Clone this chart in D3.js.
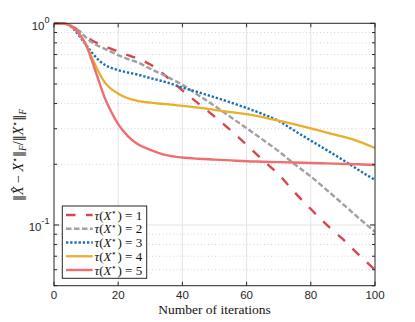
<!DOCTYPE html>
<html lang="en">
<head>
    <meta charset="UTF-8">
    <title>Relative error vs iterations</title>
    <style>
        body { margin: 0; background: #fff; }
        .tick-label { font-family: "Liberation Sans", Arial, sans-serif; font-size: 11.5px; fill: #262626; }
        .tex { font-family: "Liberation Serif", "DejaVu Serif", serif; fill: #111; }
        .norm { font-family: "DejaVu Serif", serif; font-size: 12px; }
    </style>
</head>
<body>
    <svg width="415" height="322"></svg>

    <script src="https://d3js.org/d3.v7.min.js"></script>
    <script>
        const iters = [0, 2, 4, 6, 8, 10, 12, 14, 16, 18, 20, 23, 26, 30, 35, 40, 45, 50, 55, 60, 65, 70, 75, 80, 85, 90, 95, 100];

        const err1 = [1, 1, 0.99, 0.96, 0.91, 0.86, 0.82, 0.79, 0.765, 0.745, 0.725, 0.695, 0.67, 0.625, 0.545, 0.465, 0.40, 0.345, 0.295, 0.25, 0.21, 0.178, 0.145, 0.12, 0.10, 0.085, 0.071, 0.06];
        const err2 = [1, 1, 0.99, 0.96, 0.91, 0.85, 0.80, 0.77, 0.745, 0.72, 0.695, 0.665, 0.64, 0.595, 0.545, 0.495, 0.44, 0.39, 0.343, 0.302, 0.265, 0.232, 0.20, 0.174, 0.149, 0.127, 0.108, 0.0925];
        const err3 = [1, 1, 0.99, 0.94, 0.86, 0.78, 0.71, 0.655, 0.62, 0.60, 0.585, 0.57, 0.557, 0.535, 0.51, 0.48, 0.455, 0.43, 0.405, 0.38, 0.355, 0.328, 0.293, 0.262, 0.235, 0.21, 0.187, 0.167];
        const err4 = [1, 1, 0.99, 0.95, 0.88, 0.78, 0.665, 0.57, 0.505, 0.47, 0.448, 0.425, 0.413, 0.404, 0.397, 0.39, 0.382, 0.372, 0.363, 0.355, 0.343, 0.329, 0.315, 0.301, 0.287, 0.274, 0.259, 0.241];
        const err5 = [1, 1, 0.99, 0.95, 0.88, 0.78, 0.64, 0.515, 0.42, 0.36, 0.316, 0.276, 0.252, 0.236, 0.222, 0.216, 0.213, 0.211, 0.209, 0.207, 0.206, 0.205, 0.204, 0.203, 0.202, 0.201, 0.200, 0.198];

        const ranks = [1, 2, 3, 4, 5];
        const xTicks = [0, 20, 40, 60, 80, 100];
        const yMajor = [1, 0.1];
        const yMinor = [0.05, 0.06, 0.07, 0.08, 0.09, 0.2, 0.3, 0.4, 0.5, 0.6, 0.7, 0.8, 0.9];

        const series = [
            { rank: 1, values: err1, color: "#d8464d", dash: "9.5,10.5", width: 2.4 },
            { rank: 2, values: err2, color: "#a0a0a0", dash: "5.5,2.5", width: 2.4 },
            { rank: 3, values: err3, color: "#1a6db5", dash: "2.3,1.9", width: 2.4 },
            { rank: 4, values: err4, color: "#e8ae2e", dash: null, width: 2.3 },
            { rank: 5, values: err5, color: "#ef6e70", dash: null, width: 2.4 }
        ];

        const svg = d3.select("svg");
        const plotL = 54, plotR = 375, plotT = 23.3, plotB = 285.7;

        const x = d3.scaleLinear().domain([0, 100]).range([plotL, plotR]);
        const y = d3.scaleLog().domain([0.05, 1]).range([plotB, plotT]);

        // grid
        svg.append("g").selectAll("line")
            .data(xTicks.slice(1, -1))
            .join("line")
            .attr("x1", d => x(d)).attr("x2", d => x(d))
            .attr("y1", plotT).attr("y2", plotB)
            .attr("stroke", "#e3e3e3").attr("stroke-width", 1);

        svg.append("g").selectAll("line")
            .data(yMinor)
            .join("line")
            .attr("x1", plotL).attr("x2", plotR)
            .attr("y1", d => y(d)).attr("y2", d => y(d))
            .attr("stroke", "#c8c8c8").attr("stroke-width", 0.8)
            .attr("stroke-dasharray", "1,2.5");

        svg.append("line")
            .attr("x1", plotL).attr("x2", plotR)
            .attr("y1", y(0.1)).attr("y2", y(0.1))
            .attr("stroke", "#e3e3e3").attr("stroke-width", 1);

        // curves
        const line = d3.line()
            .x((d, i) => x(iters[i]))
            .y(d => y(d))
            .curve(d3.curveMonotoneX);

        svg.append("defs").append("clipPath").attr("id", "clip")
            .append("rect")
            .attr("x", plotL).attr("y", plotT - 2)
            .attr("width", plotR - plotL).attr("height", plotB - plotT + 2);

        svg.append("g").attr("clip-path", "url(#clip)")
            .selectAll("path")
            .data(series)
            .join("path")
            .attr("d", d => line(d.values))
            .attr("fill", "none")
            .attr("stroke", d => d.color)
            .attr("stroke-width", d => d.width)
            .attr("stroke-dasharray", d => d.dash);

        // axes box and inward ticks
        const frame = svg.append("g").attr("stroke", "#262626").attr("stroke-width", 1);
        frame.append("rect")
            .attr("x", plotL).attr("y", plotT)
            .attr("width", plotR - plotL).attr("height", plotB - plotT)
            .attr("fill", "none");

        xTicks.forEach(t => {
            frame.append("line").attr("x1", x(t)).attr("x2", x(t)).attr("y1", plotB).attr("y2", plotB - 4);
            frame.append("line").attr("x1", x(t)).attr("x2", x(t)).attr("y1", plotT).attr("y2", plotT + 4);
        });
        yMajor.forEach(t => {
            frame.append("line").attr("x1", plotL).attr("x2", plotL + 5).attr("y1", y(t)).attr("y2", y(t));
            frame.append("line").attr("x1", plotR).attr("x2", plotR - 5).attr("y1", y(t)).attr("y2", y(t));
        });
        yMinor.forEach(t => {
            frame.append("line").attr("x1", plotL).attr("x2", plotL + 3).attr("y1", y(t)).attr("y2", y(t));
            frame.append("line").attr("x1", plotR).attr("x2", plotR - 3).attr("y1", y(t)).attr("y2", y(t));
        });

        // tick labels
        svg.append("g").selectAll("text")
            .data(xTicks)
            .join("text")
            .attr("class", "tick-label")
            .attr("x", d => x(d))
            .attr("y", 299)
            .attr("text-anchor", "middle")
            .text(d => d);

        const yl = svg.append("g").selectAll("text")
            .data(yMajor)
            .join("text")
            .attr("class", "tick-label")
            .attr("x", 49.5)
            .attr("y", d => y(d) + 6.5)
            .attr("text-anchor", "end")
            .attr("font-size", "12px");
        yl.append("tspan").text("10");
        yl.append("tspan").attr("dy", -7).attr("font-size", "9px").text(d => Math.round(Math.log10(d)));

        // axis labels
        svg.append("text")
            .attr("class", "tex")
            .attr("x", x(50))
            .attr("y", 313.5)
            .attr("text-anchor", "middle")
            .attr("font-size", "13.5px")
            .text("Number of iterations");

        const ylab = svg.append("text")
            .attr("class", "tex")
            .attr("transform", "translate(23,155) rotate(-90)")
            .attr("text-anchor", "middle")
            .attr("font-size", "14px");
        ylab.append("tspan").attr("class", "norm").text("\u2016");
        ylab.append("tspan").attr("font-style", "italic").text("X\u0302");
        ylab.append("tspan").text(" \u2212 ");
        ylab.append("tspan").attr("font-style", "italic").text("X");
        ylab.append("tspan").attr("dy", -5).attr("font-size", "9.5px").text("\u22c6");
        ylab.append("tspan").attr("dy", 5).attr("class", "norm").text("\u2016");
        ylab.append("tspan").attr("dy", 3).attr("font-size", "9.5px").attr("font-style", "italic").text("F");
        ylab.append("tspan").attr("dy", -3).text("/");
        ylab.append("tspan").attr("class", "norm").text("\u2016");
        ylab.append("tspan").attr("font-style", "italic").text("X");
        ylab.append("tspan").attr("dy", -5).attr("font-size", "9.5px").text("\u22c6");
        ylab.append("tspan").attr("dy", 5).attr("class", "norm").text("\u2016");
        ylab.append("tspan").attr("dy", 3).attr("font-size", "9.5px").attr("font-style", "italic").text("F");

        // legend
        const lg = svg.append("g");
        lg.append("rect")
            .attr("x", 62.3).attr("y", 206)
            .attr("width", 84.4).attr("height", 72.3)
            .attr("fill", "#fff").attr("stroke", "#262626").attr("stroke-width", 1);

        const rowY = d3.scalePoint().domain(ranks).range([215, 270]);
        const rows = lg.selectAll("g.row")
            .data(series)
            .join("g")
            .attr("class", "row")
            .attr("transform", d => `translate(0,${rowY(d.rank)})`);

        rows.append("line")
            .attr("x1", 66).attr("x2", 92.7)
            .attr("stroke", d => d.color)
            .attr("stroke-width", d => d.width)
            .attr("stroke-dasharray", d => d.dash);

        const lt = rows.append("text")
            .attr("class", "tex")
            .attr("x", 94.5)
            .attr("y", 4.5)
            .attr("font-size", "13px");
        lt.append("tspan").attr("font-style", "italic").text("\u03c4");
        lt.append("tspan").text("(");
        lt.append("tspan").attr("font-style", "italic").text("X");
        lt.append("tspan").attr("dy", -4.5).attr("font-size", "8.5px").text("\u22c6");
        lt.append("tspan").attr("dy", 4.5).text(") = ");
        lt.append("tspan").text(d => d.rank);
    </script>
</body>
</html>
